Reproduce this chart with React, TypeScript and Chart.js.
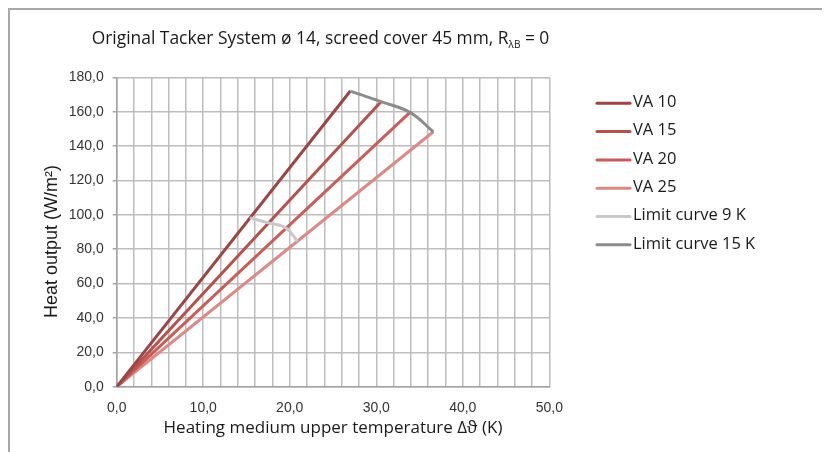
import React, { useEffect, useRef } from 'react';
import { Chart, registerables } from 'chart.js';

Chart.register(...registerables);

// ---- data ----
const VA10_DT = [0, 27.0];
const VA10_Q = [0, 172.0];
const VA15_DT = [0, 30.55];
const VA15_Q = [0, 165.8];
const VA20_DT = [0, 33.9];
const VA20_Q = [0, 159.6];
const VA25_DT = [0, 36.6];
const VA25_Q = [0, 148.3];
const LIMIT9_DT = [15.4, 17.55, 19.6, 20.9];
const LIMIT9_Q = [98.2, 95.3, 92.2, 84.6];
const LIMIT15_DT = [27.0, 30.55, 33.9, 36.6];
const LIMIT15_Q = [172.0, 165.8, 159.6, 148.3];

const SERIES_LABELS = ['VA 10', 'VA 15', 'VA 20', 'VA 25', 'Limit curve 9 K', 'Limit curve 15 K'];
const SERIES_COLORS = ['#9c4542', '#b74f4b', '#c95d58', '#db8a86', '#c9c9c9', '#8b8d8d'];

const X_MIN = 0;
const X_MAX = 50;
const X_STEP = 2;
const X_LABEL_EVERY = 10;
const Y_MIN = 0;
const Y_MAX = 180;
const Y_STEP = 20;

const TITLE_MAIN = 'Original Tacker System ø 14, screed cover 45 mm, R';
const TITLE_SUB = 'λB';
const TITLE_END = ' = 0';
const X_TITLE = 'Heating medium upper temperature Δϑ (K)';
const Y_TITLE = 'Heat output (W/m²)';

const HUM = '"Open Sans", "Noto Sans", sans-serif';
const ARIAL = '"Liberation Sans", Arial, sans-serif';

const pts = (xs: number[], ys: number[]) => xs.map((x, i) => ({ x, y: ys[i] }));
const fmt = (v: number) => v.toFixed(1).replace('.', ',');

const textPlugin = {
  id: 'customTexts',
  afterDraw(chart: any) {
    const { ctx, chartArea } = chart;
    ctx.save();
    // title
    ctx.fillStyle = '#1a1a1a';
    ctx.textBaseline = 'alphabetic';
    ctx.textAlign = 'left';
    const mainFont = `17.4px ${HUM}`;
    const subFont = `10px ${HUM}`;
    ctx.font = mainFont;
    const w1 = ctx.measureText(TITLE_MAIN).width;
    const w3 = ctx.measureText(TITLE_END).width;
    ctx.font = subFont;
    const w2 = ctx.measureText(TITLE_SUB).width;
    const total = w1 + w2 + w3;
    let tx = 310.5 - total / 2;
    const base = 34;
    ctx.font = mainFont;
    ctx.fillText(TITLE_MAIN, tx, base);
    tx += w1;
    ctx.font = subFont;
    ctx.fillText(TITLE_SUB, tx, base + 4);
    tx += w2;
    ctx.font = mainFont;
    ctx.fillText(TITLE_END, tx, base);

    // x title
    ctx.font = `17px ${HUM}`;
    ctx.textAlign = 'center';
    ctx.textBaseline = 'middle';
    ctx.fillText(X_TITLE, (chartArea.left + chartArea.right) / 2, 418);

    // y title
    ctx.save();
    ctx.translate(41.7, 231.5);
    ctx.rotate(-Math.PI / 2);
    ctx.font = `18px ${ARIAL}`;
    ctx.fillText(Y_TITLE, 0, 0);
    ctx.restore();

    // legend
    const lx = 587;
    const ly = 93.3;
    const step = 28.3;
    ctx.textAlign = 'left';
    ctx.textBaseline = 'middle';
    ctx.font = `16.5px ${HUM}`;
    SERIES_LABELS.forEach((lab, i) => {
      const y = ly + i * step;
      ctx.strokeStyle = SERIES_COLORS[i];
      ctx.lineWidth = 3;
      ctx.lineCap = 'round';
      ctx.beginPath();
      ctx.moveTo(lx, y);
      ctx.lineTo(lx + 33, y);
      ctx.stroke();
      ctx.fillStyle = '#1a1a1a';
      ctx.fillText(lab, lx + 36, y - 1);
    });
    ctx.restore();
  },
};

export default function App() {
  const ref = useRef<HTMLCanvasElement | null>(null);
  useEffect(() => {
    if (!ref.current) return;
    const series = [
      pts(VA10_DT, VA10_Q),
      pts(VA15_DT, VA15_Q),
      pts(VA20_DT, VA20_Q),
      pts(VA25_DT, VA25_Q),
      pts(LIMIT9_DT, LIMIT9_Q),
      pts(LIMIT15_DT, LIMIT15_Q),
    ];
    const chart = new Chart(ref.current, {
      type: 'line',
      data: {
        datasets: series.map((d, i) => ({
          label: SERIES_LABELS[i],
          data: d,
          borderColor: SERIES_COLORS[i],
          backgroundColor: SERIES_COLORS[i],
          borderWidth: 3,
          pointRadius: 0,
          pointHoverRadius: 0,
          tension: i >= 4 ? 0.4 : 0,
          fill: false,
          order: i >= 4 ? 1 : 2,
        })),
      },
      options: {
        responsive: false,
        animation: false,
        events: [],
        layout: { padding: { left: 0, top: 67.3, right: 280.7, bottom: 25.3 } },
        plugins: {
          legend: { display: false },
          title: { display: false },
          tooltip: { enabled: false },
        },
        scales: {
          x: {
            type: 'linear',
            min: X_MIN,
            max: X_MAX,
            afterFit: (s: any) => { s.height = 40; },
            afterBuildTicks: (s: any) => {
              const t = [];
              for (let v = X_MIN; v <= X_MAX + 1e-9; v += X_STEP) t.push({ value: v });
              s.ticks = t;
            },
            ticks: {
              autoSkip: false,
              maxRotation: 0,
              padding: 13,
              color: '#333333',
              font: { family: ARIAL, size: 14 },
              callback: (v: any) => (Math.round(v) % X_LABEL_EVERY === 0 ? fmt(Number(v)) : ''),
            },
            grid: { color: '#bdbdbd', lineWidth: 1.5, drawTicks: false },
            border: { color: '#a3a3a3', width: 1.5 },
          },
          y: {
            type: 'linear',
            min: Y_MIN,
            max: Y_MAX,
            afterFit: (s: any) => { s.width = 106.7; },
            ticks: {
              stepSize: Y_STEP,
              padding: 9,
              color: '#333333',
              font: { family: ARIAL, size: 14 },
              callback: (v: any) => fmt(Number(v)),
            },
            grid: { color: '#bdbdbd', lineWidth: 1.5, tickLength: 4, tickColor: '#a3a3a3' },
            border: { color: '#a3a3a3', width: 1.5 },
          },
        },
      },
      plugins: [textPlugin],
    });
    return () => chart.destroy();
  }, []);
  return (
    <div
      style={{
        width: 822,
        height: 444,
        boxSizing: 'border-box',
        borderLeft: '2px solid #a8a8a8',
        borderTop: '2px solid #a8a8a8',
        background: '#ffffff',
      }}
    >
      <canvas ref={ref} width={820} height={442} style={{ display: 'block' }} />
    </div>
  );
}
